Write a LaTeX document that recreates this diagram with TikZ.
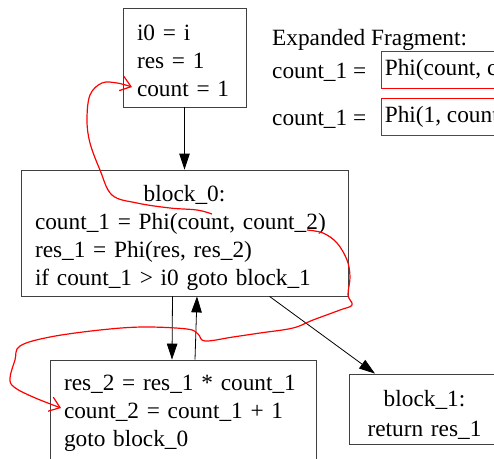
\documentclass[tikz,border=0pt]{standalone}
\usepackage{fontspec}
\setmainfont{Liberation Serif}
\usepackage{tikz}
\usetikzlibrary{positioning,arrows.meta,calc}
\newcommand{\cfgfont}{\fontsize{23.3}{28}\selectfont}
% invisible strut that pushes the first line of a block down
\newcommand{\toppad}[1]{\rule{0pt}{#1}}

\begin{document}
\begin{tikzpicture}[
  x=1pt,y=-1pt,
  every node/.style={font=\cfgfont},
  block/.style={draw=black!75,line width=0.8pt,rectangle,inner xsep=0pt,inner ysep=0pt,align=left},
  frag/.style={draw=red,line width=0.8pt,rectangle,minimum height=37pt,inner xsep=3pt,inner ysep=0pt},
  flow/.style={-{Triangle[length=16pt,width=10.5pt]},line width=0.8pt},
  scribble/.style={red,line width=1.2pt,-{Straight Barb[length=10pt,width=15pt]}}]
  \useasboundingbox (0,0) rectangle (494,458);
  \clip (0,0) rectangle (494,458);
  % basic blocks of the loop
  \node[block,minimum width=123pt,minimum height=99pt,text width=95pt] (entry) at (184.5,57.5)
    {\toppad{22pt}i0 = i\\res = 1\\count = 1};
  \node[block,minimum width=327pt,minimum height=126pt,text width=299pt] (block0) at (184.5,233)
    {\hfill\toppad{26pt}block\_0:\hfill\null\\count\_1 = Phi(count, count\_2)\\res\_1 = Phi(res, res\_2)\\if count\_1 > i0 goto block\_1};
  \node[block,minimum width=266pt,minimum height=102pt,text width=238pt] (body) at (183,411)
    {\toppad{21pt}res\_2 = res\_1 * count\_1\\count\_2 = count\_1 + 1\\goto block\_0};
  \node[block,align=center,font=\fontsize{23.3}{30}\selectfont,
    minimum width=151pt,minimum height=70pt,text width=140pt] (block1) at (424.5,409)
    {\toppad{28pt}block\_1:\\return res\_1};
  % control flow
  \draw[flow] (entry) -- (block0);
  \draw[flow] ([xshift=-12pt]block0.south) -- ([xshift=-11pt]body.north);
  \draw[flow] ([xshift=12pt]body.north) -- ([xshift=12.5pt]block0.south);
  \draw[flow] ([xshift=85pt]block0.south) -- ([xshift=-49.5pt]block1.north);
  % expanded phi
  \node[anchor=west,inner sep=0pt] (fraghead) at (272,40) {Expanded Fragment:};
  \node[anchor=west,inner sep=0pt] (lhs1) at (272,72) {count\_1 =};
  \node[frag,right=15pt of lhs1,yshift=2pt] (rhs1) {Phi(count, count\_2)};
  \node[anchor=west,inner sep=0pt] (lhs2) at (272,119) {count\_1 =};
  \node[frag,right=15pt of lhs2,yshift=2.5pt] (rhs2) {Phi(1, count\_2)};
  % where the phi operands come from
  \coordinate (phiArg) at (212,214);
  \coordinate (initCount) at (132,87);
  \coordinate (loopArg) at (307,230);
  \coordinate (incCount) at (61,408);
  \draw[scribble] plot[smooth,tension=0.6] coordinates {(phiArg) (197,210) (170,208) (137,203) (112,195)
    (100,170) (90,143) (87,120) (90,95) (102,83) (117,83) (initCount)};
  \draw[scribble] plot[smooth,tension=0.6] coordinates {(loopArg) (323,233) (337,243) (347,260) (350,277)
    (348,295) (352,305) (340,310) (313,320) (293,328) (260,333) (233,337) (205,341) (198,334)
    (187,329) (143,327) (100,330) (50,337) (20,346) (15,360) (10,378) (14,387) (33,397) (incCount)};
\end{tikzpicture}
\end{document}
